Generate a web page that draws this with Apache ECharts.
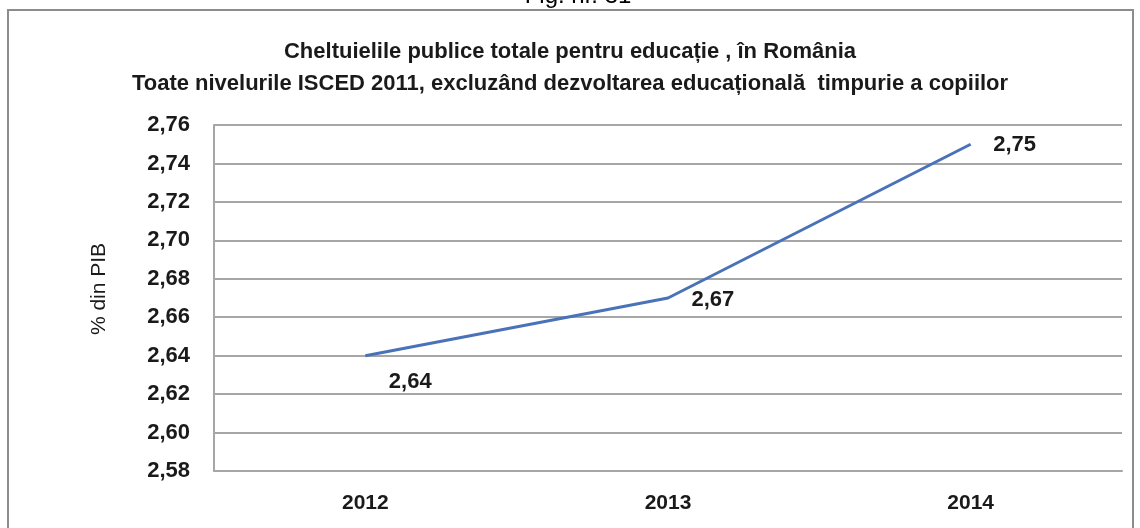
<!DOCTYPE html>
<html><head><meta charset="utf-8">
<script src="https://cdn.jsdelivr.net/npm/echarts@6/dist/echarts.min.js"></script>
<style>html,body{margin:0;padding:0;background:#fff}#c{width:1140px;height:528px}</style>
</head><body><div id="c"></div>
<script>
const categories = ['2012', '2013', '2014'];
const values = [2.64, 2.67, 2.75];
const yMin = 2.58, yMax = 2.76, yStep = 0.02;
const titleLines = ['Cheltuielile publice totale pentru educație , în România',
  'Toate nivelurile ISCED 2011, excluzând dezvoltarea educațională  timpurie a copiilor'];
const yName = '% din PIB';
const figLabel = 'Fig. nr. 31';
const sans = '"Liberation Sans", Arial, sans-serif';
const chart = echarts.init(document.getElementById('c'));
const fmt = v => v.toFixed(2).replace('.', ',');
chart.setOption({
  animation: false,
  backgroundColor: '#fff',
  graphic: [
    {type: 'rect', shape: {x: 8, y: 10, width: 1125, height: 540}, style: {fill: 'none', stroke: '#8c8c8c', lineWidth: 2}, z: -1},
    {type: 'text', x: 578, y: -4, style: {text: figLabel, font: '24px "Liberation Sans", Arial, sans-serif', fill: '#000', align: 'center', verticalAlign: 'middle'}},
    {type: 'text', x: 99, y: 289, rotation: Math.PI / 2, style: {text: yName, font: '21px "Liberation Sans", Arial, sans-serif', fill: '#1a1a1a', align: 'center', verticalAlign: 'middle'}}
  ],
  title: {
    text: titleLines.join('\n'), left: 'center', top: 31,
    textStyle: {fontFamily: sans, fontWeight: 'bold', fontSize: 22, lineHeight: 32, color: '#1a1a1a'}
  },
  grid: {left: 214, right: 18, top: 125, bottom: 57},
  xAxis: {
    type: 'category', data: categories, boundaryGap: true,
    axisLine: {lineStyle: {color: '#a6a6a6', width: 2}}, axisTick: {show: false},
    axisLabel: {margin: 22, fontFamily: sans, fontWeight: 'bold', fontSize: 21, color: '#1a1a1a'}
  },
  yAxis: {
    type: 'value', min: yMin, max: yMax, interval: yStep,
    axisLine: {show: true, lineStyle: {color: '#a6a6a6', width: 2}}, axisTick: {show: false},
    splitLine: {lineStyle: {color: '#a6a6a6', width: 2}},
    axisLabel: {margin: 24, formatter: fmt, fontFamily: sans, fontWeight: 'bold', fontSize: 22, color: '#1a1a1a'}
  },
  series: [{
    type: 'line', data: values, symbol: 'circle', symbolSize: 1, showSymbol: true,
    itemStyle: {color: 'rgba(0,0,0,0)'},
    lineStyle: {color: '#4a72b8', width: 3},
    label: {
      show: true, formatter: p => fmt(p.value), fontFamily: sans, fontWeight: 'bold', fontSize: 22, color: '#1a1a1a',
      position: 'right', distance: 0
    },
    labelLayout: function (p) {
      const offs = [[23, 26], [23, 2], [22, 1]];
      const o = offs[p.dataIndex];
      return {dx: o[0], dy: o[1]};
    }
  }]
});
</script></body></html>
